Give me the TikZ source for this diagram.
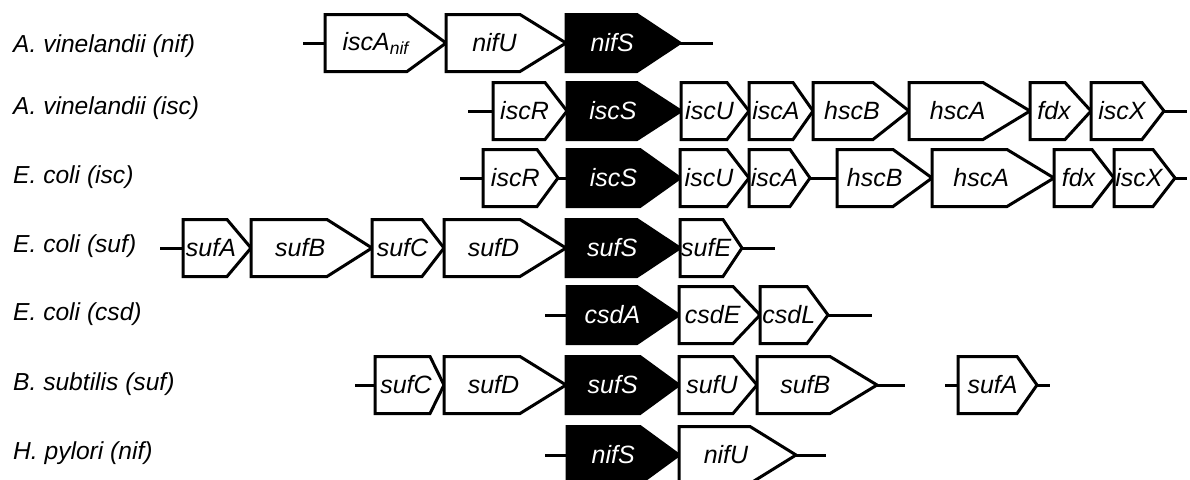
\documentclass[tikz,border=0pt]{standalone}
\usepackage{fontspec}
\setmainfont{Liberation Sans}
\newcommand\gene[7]{%
  \draw[#6box] (#2,#5-28.5) -- (#3,#5-28.5) -- (#4,#5) -- (#3,#5+28.5) -- (#2,#5+28.5) -- cycle;
  \coordinate (#1-l) at (#2,#5);
  \coordinate (#1-r) at (#4,#5);
  \node[#6text] (#1) at ({(#2+(#3+#4)/2)/2},#5) {#7};}
\begin{document}
\begin{tikzpicture}[x=1pt,y=-1pt,
  dna/.style={line width=3pt},
  genebox/.style={draw=black,line width=3pt,fill=white,line join=miter},
  corebox/.style={genebox,fill=black},
  genetext/.style={font=\fontsize{25}{25}\selectfont\itshape,inner sep=0pt,text=black},
  coretext/.style={genetext,text=white},
  species/.style={font=\fontsize{24.6}{25}\selectfont\itshape,anchor=west,inner sep=0pt}]
\clip (0,0) rectangle (1190,479);
\fill[white] (0,0) rectangle (1190,479);

% species labels
\node[species] (s1) at (13,46) {A. vinelandii (nif)};
\node[species] (s2) at (13,108) {A. vinelandii (isc)};
\node[species] (s3) at (13,177) {E. coli (isc)};
\node[species] (s4) at (13,246) {E. coli (suf)};
\node[species] (s5) at (13,314) {E. coli (csd)};
\node[species] (s6) at (13,384) {B. subtilis (suf)};
\node[species] (s7) at (13,453) {H. pylori (nif)};

% row 1
\gene{a1}{325}{407}{446}{43}{gene}{iscA\textsubscript{nif}}
\gene{a2}{446}{520}{566}{43}{gene}{nifU}
\gene{a3}{566}{637}{680}{43}{core}{nifS}
\coordinate (a0) at (303,43);
\coordinate (a9) at (713,43);
\draw[dna] (a0) -- (a1-l);
\draw[dna] (a3-r) -- (a9);

% row 2
\gene{b1}{493}{545}{567}{111}{gene}{iscR}
\gene{b2}{567}{637}{681}{111}{core}{iscS}
\gene{b3}{681}{727}{749}{111}{gene}{iscU}
\gene{b4}{749}{793}{813}{111}{gene}{iscA}
\gene{b5}{813}{873}{909}{111}{gene}{hscB}
\gene{b6}{909}{983}{1030}{111}{gene}{hscA}
\gene{b7}{1030}{1065}{1091}{111}{gene}{fdx}
\gene{b8}{1091}{1142}{1164}{111}{gene}{iscX}
\coordinate (b0) at (468,111);
\coordinate (b9) at (1187,111);
\draw[dna] (b0) -- (b1-l);
\draw[dna] (b8-r) -- (b9);

% row 3
\gene{c1}{483}{537}{558}{178}{gene}{iscR}
\gene{c2}{567}{640}{680}{178}{core}{iscS}
\gene{c3}{680}{727}{749}{178}{gene}{iscU}
\gene{c4}{749}{790}{810}{178}{gene}{iscA}
\gene{c5}{837}{893}{932}{178}{gene}{hscB}
\gene{c6}{932}{1007}{1054}{178}{gene}{hscA}
\gene{c7}{1054}{1092}{1114}{178}{gene}{fdx}
\gene{c8}{1114}{1153}{1175}{178}{gene}{iscX}
\coordinate (c0) at (460,178);
\coordinate (c9) at (1187,178);
\draw[dna] (c0) -- (c1-l);
\draw[dna] (c1-r) -- (c2-l);
\draw[dna] (c4-r) -- (c5-l);
\draw[dna] (c8-r) -- (c9);

% row 4
\gene{d1}{183}{227}{251}{248}{gene}{sufA}
\gene{d2}{251}{327}{372}{248}{gene}{sufB}
\gene{d3}{372}{422}{444}{248}{gene}{sufC}
\gene{d4}{444}{520}{566}{248}{gene}{sufD}
\gene{d5}{566}{637}{680}{248}{core}{sufS}
\gene{d6}{680}{723}{742}{248}{gene}{sufE}
\coordinate (d0) at (160,248);
\coordinate (d9) at (775,248);
\draw[dna] (d0) -- (d1-l);
\draw[dna] (d6-r) -- (d9);

% row 5
\gene{e1}{567}{637}{679}{315}{core}{csdA}
\gene{e2}{679}{733}{760}{315}{gene}{csdE}
\gene{e3}{760}{807}{828}{315}{gene}{csdL}
\coordinate (e0) at (545,315);
\coordinate (e9) at (872,315);
\draw[dna] (e0) -- (e1-l);
\draw[dna] (e3-r) -- (e9);

% row 6
\gene{f1}{375}{430}{444}{385}{gene}{sufC}
\gene{f2}{444}{520}{566}{385}{gene}{sufD}
\gene{f3}{566}{640}{679}{385}{core}{sufS}
\gene{f4}{679}{733}{757}{385}{gene}{sufU}
\gene{f5}{757}{830}{877}{385}{gene}{sufB}
\gene{f6}{958}{1017}{1037}{385}{gene}{sufA}
\coordinate (f0) at (355,385);
\coordinate (f7) at (905,385);
\coordinate (f8) at (945,385);
\coordinate (f9) at (1050,385);
\draw[dna] (f0) -- (f1-l);
\draw[dna] (f5-r) -- (f7);
\draw[dna] (f8) -- (f6-l);
\draw[dna] (f6-r) -- (f9);

% row 7
\gene{g1}{567}{640}{679}{455}{core}{nifS}
\gene{g2}{679}{750}{796}{455}{gene}{nifU}
\coordinate (g0) at (545,455);
\coordinate (g9) at (826,455);
\draw[dna] (g0) -- (g1-l);
\draw[dna] (g2-r) -- (g9);
\end{tikzpicture}
\end{document}
